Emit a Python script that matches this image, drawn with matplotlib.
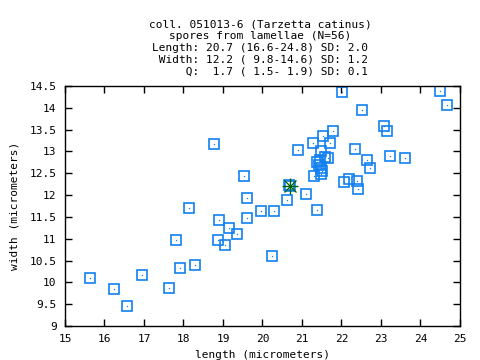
import matplotlib
matplotlib.use("Agg")
import matplotlib.pyplot as plt

length = [15.63, 16.24, 16.58, 16.96, 17.64, 17.81, 17.92, 18.29, 18.15, 18.91,
          18.88, 19.06, 19.14, 19.36, 19.60, 19.60, 19.97, 20.30, 21.39, 20.25,
          20.63, 18.78, 19.54, 22.02, 24.50, 24.68, 22.53, 23.07, 23.16, 21.79,
          21.54, 21.29, 21.72, 20.91, 22.35, 22.65, 23.24, 23.62, 22.73, 21.31,
          22.07, 22.20, 22.40, 22.43, 21.11, 20.70, 21.48, 21.67, 21.58, 21.39,
          21.46, 21.47, 21.47, 20.68, 21.50, 21.44]
width = [10.09, 9.84, 9.45, 10.16, 9.86, 10.96, 10.32, 10.39, 11.70, 11.44,
         10.96, 10.86, 11.24, 11.12, 11.47, 11.93, 11.64, 11.64, 11.65, 10.60,
         11.89, 13.16, 12.43, 14.36, 14.39, 14.06, 13.94, 13.58, 13.48, 13.48,
         13.35, 13.19, 13.19, 13.03, 13.05, 12.80, 12.89, 12.84, 12.61, 12.43,
         12.29, 12.38, 12.32, 12.13, 12.02, 12.20, 13.01, 12.86, 12.88, 12.75,
         12.80, 12.61, 12.48, 12.22, 12.55, 12.70]
mean_len = 20.7
mean_wid = 12.2

title = ("coll. 051013-6 (Tarzetta catinus)\n"
         "spores from lamellae (N=56)\n"
         "Length: 20.7 (16.6-24.8) SD: 2.0\n"
         " Width: 12.2 ( 9.8-14.6) SD: 1.2\n"
         "     Q:  1.7 ( 1.5- 1.9) SD: 0.1")

x_ticks = [15, 16, 17, 18, 19, 20, 21, 22, 23, 24, 25]
y_ticks = [9, 9.5, 10, 10.5, 11, 11.5, 12, 12.5, 13, 13.5, 14, 14.5]

blue = "#1080f0"
green = "#006400"
plt.rcParams["font.family"] = "DejaVu Sans Mono"
plt.rcParams["font.size"] = 8

fig = plt.figure(figsize=(4.8, 3.6), dpi=100)
ax = fig.add_axes([0.1354, 0.0944, 0.8229, 0.6667])

ax.plot(length, width, linestyle="none", marker="s", markersize=7.2,
        markerfacecolor="none", markeredgecolor=blue, markeredgewidth=1.2)
ax.plot(length, width, linestyle="none", marker="o", markersize=1.0,
        markeredgewidth=0, markerfacecolor=blue)

# mean marker
ax.plot([mean_len], [mean_wid], marker="+", markersize=11, color=green, mew=1.0)
ax.plot([mean_len], [mean_wid], marker="x", markersize=8, color=green, mew=0.9)

ax.set_xlim(15, 25)
ax.set_ylim(9, 14.5)
ax.set_xticks(x_ticks)
ax.set_yticks(y_ticks)
ax.set_xticklabels([f"{t:g}" for t in x_ticks])
ax.set_yticklabels([f"{t:g}" for t in y_ticks])
ax.tick_params(direction="in", length=5, width=1, top=True, right=True, pad=6)
for s in ax.spines.values():
    s.set_linewidth(1)

ax.set_xlabel("length (micrometers)", labelpad=4)
ax.set_ylabel("width (micrometers)", labelpad=7)
fig.text(0.542, 0.945, title, ha="center", va="top", multialignment="center",
         linespacing=1.2)

fig.savefig("out.png", dpi=100)
